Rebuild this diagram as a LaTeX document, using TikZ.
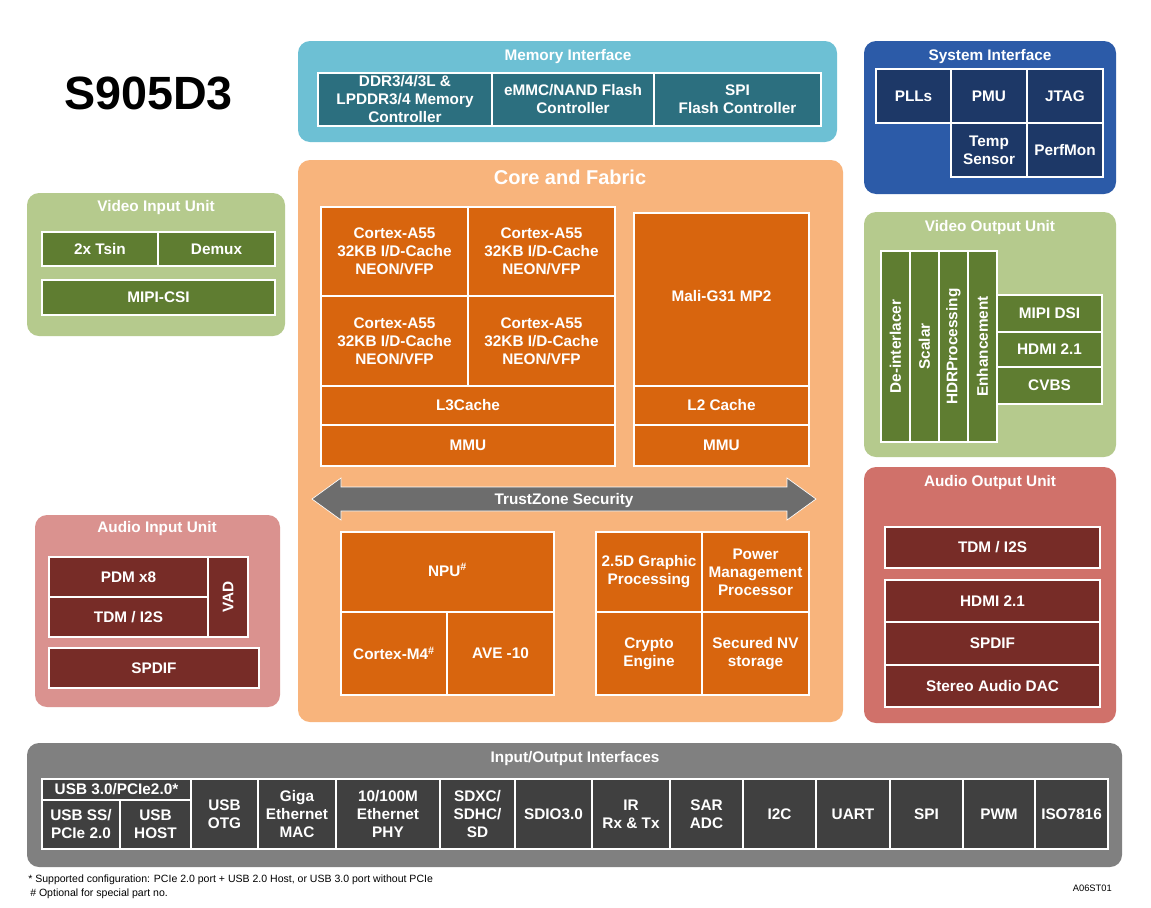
\documentclass[tikz,border=0pt]{standalone}
\usepackage{fontspec}
\setmainfont{Liberation Sans}
\definecolor{memO}{HTML}{6DC0D4}
\definecolor{memI}{HTML}{2C6F7F}
\definecolor{sysO}{HTML}{2C5BA8}
\definecolor{sysI}{HTML}{1D3867}
\definecolor{vidO}{HTML}{B5CA8D}
\definecolor{vidI}{HTML}{5F7D31}
\definecolor{corO}{HTML}{F8B47C}
\definecolor{corI}{HTML}{D8650E}
\definecolor{audO}{HTML}{D0716A}
\definecolor{audIn}{HTML}{DA928F}
\definecolor{audI}{HTML}{772C27}
\definecolor{ioO}{HTML}{808080}
\definecolor{ioI}{HTML}{404040}
\definecolor{tzA}{HTML}{6D6D6D}
\tikzset{
  outer/.style={rectangle, rounded corners=9pt, draw=none, inner sep=0pt, outer sep=0pt},
  cell/.style={rectangle, draw=white, line width=1.5pt, inner sep=1pt, outer sep=0pt, text=white,
    font=\bfseries\fontsize{11.5}{13.5}\selectfont, align=center},
  iocell/.style={cell, line width=1pt},
  ttl/.style={text=white, font=\bfseries\fontsize{11.5}{13}\selectfont, inner sep=0pt, yshift=-1.5pt},
  note/.style={font=\fontsize{7.9}{9}\selectfont, inner sep=0pt, text=black},
}
\newcommand\bx[7]{\node[#6, minimum width={(#4-#2)*0.75pt}, minimum height={(#5-#3)*0.75pt}] (#1) at ({(#2+#4)/2},{(#3+#5)/2}) {#7};}
\begin{document}
\begin{tikzpicture}[x=0.75pt,y=-0.75pt]
\useasboundingbox[fill=white] (0,0) rectangle (1151,907);

% Title
\node[anchor=west, inner sep=0pt, font=\bfseries\fontsize{35}{40}\selectfont] (chip) at (64,93) {S905D3};

% Memory Interface
\bx{mem}{298}{41}{837}{142}{outer, fill=memO}{}
\node[ttl] (memT) at (568,55) {Memory Interface};
\bx{ddr}{318}{73}{492}{126}{cell, fill=memI}{DDR3/4/3L \&\\LPDDR3/4 Memory\\Controller}
\bx{emmc}{492}{73}{654}{126}{cell, fill=memI}{eMMC/NAND Flash\\Controller}
\bx{spif}{654}{73}{821}{126}{cell, fill=memI}{SPI\\Flash Controller}

% System Interface
\bx{sys}{864}{41}{1116}{194}{outer, fill=sysO}{}
\node[ttl] (sysT) at (990,55) {System Interface};
\bx{plls}{876}{69}{951}{123}{cell, fill=sysI}{PLLs}
\bx{pmu}{951}{69}{1027}{123}{cell, fill=sysI}{PMU}
\bx{jtag}{1027}{69}{1103}{123}{cell, fill=sysI}{JTAG}
\bx{temp}{951}{123}{1027}{177}{cell, fill=sysI}{Temp\\Sensor}
\bx{perf}{1027}{123}{1103}{177}{cell, fill=sysI}{PerfMon}

% Video Input Unit
\bx{vin}{27}{193}{285}{336}{outer, fill=vidO}{}
\node[ttl] (vinT) at (156,206) {Video Input Unit};
\bx{tsin}{42}{232}{158}{266}{cell, fill=vidI}{2x Tsin}
\bx{demux}{158}{232}{275}{266}{cell, fill=vidI}{Demux}
\bx{csi}{42}{280}{275}{315}{cell, fill=vidI}{MIPI-CSI}

% Core and Fabric
\bx{core}{298}{160}{843}{722}{outer, fill=corO}{}
\node[ttl, font=\bfseries\fontsize{15}{18}\selectfont] (coreT) at (570,175) {Core and Fabric};
\bx{a1}{321}{207}{468}{296}{cell, fill=corI}{Cortex-A55\\32KB I/D-Cache\\NEON/VFP}
\bx{a2}{468}{207}{615}{296}{cell, fill=corI}{Cortex-A55\\32KB I/D-Cache\\NEON/VFP}
\bx{a3}{321}{296}{468}{386}{cell, fill=corI}{Cortex-A55\\32KB I/D-Cache\\NEON/VFP}
\bx{a4}{468}{296}{615}{386}{cell, fill=corI}{Cortex-A55\\32KB I/D-Cache\\NEON/VFP}
\bx{l3}{321}{386}{615}{425}{cell, fill=corI}{L3Cache}
\bx{mmu1}{321}{425}{615}{466}{cell, fill=corI}{MMU}
\bx{mali}{634}{213}{809}{386}{cell, fill=corI}{\raisebox{6pt}{Mali-G31 MP2}}
\bx{l2}{634}{386}{809}{425}{cell, fill=corI}{L2 Cache}
\bx{mmu2}{634}{425}{809}{466}{cell, fill=corI}{MMU}

% TrustZone arrow
\fill[tzA, draw=white, line width=0.5pt] (312,499) -- (341,478) -- (341,487) -- (787,487) -- (787,478) -- (816,499)
  -- (787,520) -- (787,511) -- (341,511) -- (341,520) -- cycle;
\node[ttl, font=\bfseries\fontsize{11.5}{13.5}\selectfont] (tz) at (564,499) {TrustZone Security};

\bx{npu}{341}{532}{554}{612}{cell, fill=corI}{\raisebox{3pt}{NPU\textsuperscript{\#}}}
\bx{m4}{341}{612}{447}{695}{cell, fill=corI}{Cortex-M4\textsuperscript{\#}}
\bx{ave}{447}{612}{554}{695}{cell, fill=corI}{AVE -10}
\bx{gfx}{596}{532}{702}{612}{cell, fill=corI}{2.5D Graphic\\Processing}
\bx{pmp}{702}{532}{809}{612}{cell, fill=corI}{Power\\Management\\Processor}
\bx{crypto}{596}{612}{702}{695}{cell, fill=corI}{Crypto\\Engine}
\bx{secnv}{702}{612}{809}{695}{cell, fill=corI}{Secured NV\\storage}

% Video Output Unit
\bx{vout}{864}{212}{1116}{457}{outer, fill=vidO}{}
\node[ttl] (voutT) at (990,226) {Video Output Unit};
\node[cell, fill=vidI, rotate=90, minimum width={191*0.75pt}, minimum height={29*0.75pt}] (deint) at (895.5,346.5) {De-interlacer};
\node[cell, fill=vidI, rotate=90, minimum width={191*0.75pt}, minimum height={29*0.75pt}] (scal) at (924.5,346.5) {Scalar};
\node[cell, fill=vidI, rotate=90, minimum width={191*0.75pt}, minimum height={29*0.75pt}] (hdrp) at (953.5,346.5) {HDRProcessing};
\node[cell, fill=vidI, rotate=90, minimum width={191*0.75pt}, minimum height={29*0.75pt}] (enh) at (982.5,346.5) {Enhancement};
\bx{dsi}{997}{295}{1102}{332}{cell, fill=vidI}{MIPI DSI}
\bx{hdmiv}{997}{332}{1102}{367}{cell, fill=vidI}{HDMI 2.1}
\bx{cvbs}{997}{367}{1102}{404}{cell, fill=vidI}{CVBS}

% Audio Output Unit
\bx{aout}{864}{467}{1116}{723}{outer, fill=audO}{}
\node[ttl] (aoutT) at (990,481) {Audio Output Unit};
\bx{tdmo}{885}{527}{1100}{568}{cell, fill=audI}{TDM / I2S}
\bx{hdmia}{885}{580}{1100}{622}{cell, fill=audI}{HDMI 2.1}
\bx{spdifo}{885}{622}{1100}{665}{cell, fill=audI}{SPDIF}
\bx{dac}{885}{665}{1100}{707}{cell, fill=audI}{Stereo Audio DAC}

% Audio Input Unit
\bx{ain}{35}{515}{280}{707}{outer, fill=audIn}{}
\node[ttl] (ainT) at (157,527) {Audio Input Unit};
\bx{pdm}{49}{557}{208}{597}{cell, fill=audI}{PDM x8}
\bx{tdmi}{49}{597}{208}{637}{cell, fill=audI}{TDM / I2S}
\node[cell, fill=audI, rotate=90, minimum width={80*0.75pt}, minimum height={40*0.75pt}] (vad) at (228,597) {VAD};
\bx{spdifi}{49}{648}{259}{688}{cell, fill=audI}{SPDIF}

% Input/Output Interfaces
\bx{io}{27}{743}{1122}{867}{outer, fill=ioO}{}
\node[ttl] (ioT) at (575,757) {Input/Output Interfaces};
\bx{usb3}{42}{779}{191}{800}{iocell, fill=ioI}{USB 3.0/PCIe2.0*}
\bx{usbss}{42}{800}{120}{849}{iocell, fill=ioI}{USB SS/\\PCIe 2.0}
\bx{usbh}{120}{800}{191}{849}{iocell, fill=ioI}{USB\\HOST}
\bx{otg}{191}{779}{258}{849}{iocell, fill=ioI}{USB\\OTG}
\bx{giga}{258}{779}{336}{849}{iocell, fill=ioI}{Giga\\Ethernet\\MAC}
\bx{phy}{336}{779}{440}{849}{iocell, fill=ioI}{10/100M\\Ethernet\\PHY}
\bx{sdxc}{440}{779}{515}{849}{iocell, fill=ioI}{SDXC/\\SDHC/\\SD}
\bx{sdio}{515}{779}{592}{849}{iocell, fill=ioI}{SDIO3.0}
\bx{ir}{592}{779}{670}{849}{iocell, fill=ioI}{IR\\Rx \& Tx}
\bx{sar}{670}{779}{743}{849}{iocell, fill=ioI}{SAR\\ADC}
\bx{i2c}{743}{779}{816}{849}{iocell, fill=ioI}{I2C}
\bx{uart}{816}{779}{890}{849}{iocell, fill=ioI}{UART}
\bx{spi}{890}{779}{963}{849}{iocell, fill=ioI}{SPI}
\bx{pwm}{963}{779}{1035}{849}{iocell, fill=ioI}{PWM}
\bx{iso}{1035}{779}{1108}{849}{iocell, fill=ioI}{ISO7816}

% Footnotes
\node[note, anchor=west] (fn1) at (28,880) {* Supported configuration: PCIe 2.0 port + USB 2.0 Host, or USB 3.0 port without PCIe};
\node[note, anchor=west] (fn2) at (30,894) {\# Optional for special part no.};
\node[note, anchor=east, font=\fontsize{7}{8}\selectfont] (code) at (1112,888) {A06ST01};
\end{tikzpicture}
\end{document}
